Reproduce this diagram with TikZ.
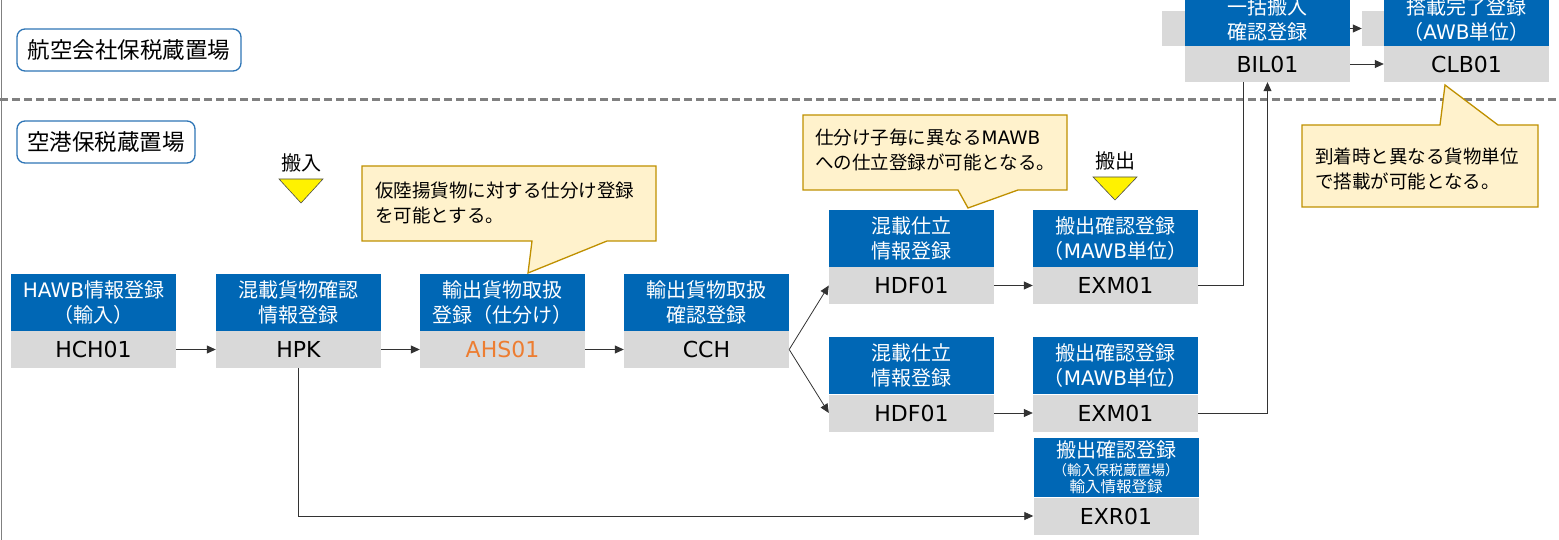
\documentclass[tikz,border=0pt]{standalone}
\usepackage{fontspec}
\setmainfont{Noto Sans CJK JP}
\newfontfamily\latfont{DejaVu Sans}
\usetikzlibrary{arrows.meta}
\definecolor{boxblue}{HTML}{0067B5}
\definecolor{boxgray}{HTML}{D9D9D9}
\definecolor{notefill}{HTML}{FFF2CC}
\definecolor{noteline}{HTML}{BF9000}
\definecolor{arealine}{HTML}{2E75B6}
\definecolor{codeorange}{HTML}{ED7D31}
\definecolor{sepgray}{HTML}{808080}
\tikzset{
  ttl/.style={fill=boxblue, text=white, minimum width=165pt, minimum height=57pt, inner sep=0pt, align=center, anchor=south, font=\fontsize{20}{25}\selectfont},
  cd/.style={fill=boxgray, minimum width=165pt, minimum height=37pt, inner sep=0pt, font=\latfont\fontsize{22}{26}\selectfont},
  flow/.style={-{Triangle[length=9pt,width=8pt]}, line width=0.8pt, draw=black!80},
  note/.style={fill=notefill, draw=noteline, line width=1.3pt},
  notetext/.style={anchor=west, align=left, inner sep=0pt, font=\fontsize{18.5}{25}\selectfont},
  area/.style={draw=arealine, line width=1.3pt, rounded corners=8pt, minimum height=42pt, inner sep=0pt, font=\fontsize{22.5}{26}\selectfont},
  inout/.style={fill=yellow, draw=black!70, line width=0.6pt},
  inoutlbl/.style={inner sep=0pt, font=\fontsize{20}{24}\selectfont}
}
\begin{document}
\begin{tikzpicture}[x=1pt, y=-1pt]
\useasboundingbox (0,0) rectangle (1559,540);
\clip (0,0) rectangle (1559,540);
% 区切り線
\draw[sepgray, line width=1.5pt] (1.5,0) -- (1.5,540);
\draw[sepgray, line width=3pt, dash pattern=on 8pt off 4pt] (0,100) -- (1559,100);
% 蔵置場
\node[area, minimum width=224pt] (airline) at (129,50) {航空会社保税蔵置場};
\node[area, minimum width=178pt] (airport) at (106,142) {空港保税蔵置場};
% 搬入・搬出
\node[inoutlbl] (inlbl) at (301,163) {搬入};
\draw[inout] (279,179) -- (323,179) -- (301,203) -- cycle;
\node[inoutlbl] (outlbl) at (1115,161) {搬出};
\draw[inout] (1093,177) -- (1137,177) -- (1115,200) -- cycle;
% 空港側
\node[cd] (hch) at (93.5,349.5) {HCH01};
\node[ttl] (hcht) at (hch.north) {{\latfont HAWB}情報登録\\（輸入）};
\node[cd] (hpk) at (298.5,349.5) {HPK};
\node[ttl] (hpkt) at (hpk.north) {混載貨物確認\\情報登録};
\node[cd, text=codeorange] (ahs) at (502.5,349.5) {AHS01};
\node[ttl] (ahst) at (ahs.north) {輸出貨物取扱\\登録（仕分け）};
\node[cd] (cch) at (706.5,349.5) {CCH};
\node[ttl] (ccht) at (cch.north) {輸出貨物取扱\\確認登録};
\node[cd] (hdfa) at (911.5,285.5) {HDF01};
\node[ttl] (hdfat) at (hdfa.north) {混載仕立\\情報登録};
\node[cd] (exma) at (1115.5,285.5) {EXM01};
\node[ttl] (exmat) at (exma.north) {搬出確認登録\\（{\latfont MAWB}単位）};
\node[cd] (hdfb) at (911.5,413) {HDF01};
\node[ttl] (hdfbt) at (hdfb.north) {混載仕立\\情報登録};
\node[cd] (exmb) at (1115.5,413) {EXM01};
\node[ttl] (exmbt) at (exmb.north) {搬出確認登録\\（{\latfont MAWB}単位）};
\node[cd] (exr) at (1116,516) {EXR01};
\node[ttl, minimum height=59pt] (exrt) at (exr.north) {搬出確認登録\\[-7pt]{\fontsize{14}{16}\selectfont （輸入保税蔵置場）}\\[-8pt]{\fontsize{15.5}{17}\selectfont 輸入情報登録}};
% 航空会社側
\node[cd, minimum height=35pt] (bilback) at (1244.5,28.5) {};
\node[cd, minimum height=35pt] (clbback) at (1444.5,28.5) {};
\draw[flow] (bilback.east) -- (clbback.west);
\node[cd, minimum height=36pt] (bil) at (1267.5,64) {BIL01};
\node[ttl, minimum height=52pt] (bilt) at (bil.north) {一括搬入\\確認登録};
\node[cd, minimum height=36pt] (clb) at (1466.5,64) {CLB01};
\node[ttl, minimum height=52pt] (clbt) at (clb.north) {搭載完了登録\\（{\latfont AWB}単位）};
% 矢印
\draw[flow] (hch.east) -- (hpk.west);
\draw[flow] (hpk.east) -- (ahs.west);
\draw[flow] (ahs.east) -- (cch.west);
\draw[flow] (cch.east) -- (hdfa.west);
\draw[flow] (cch.east) -- (hdfb.west);
\draw[flow] (hdfa.east) -- (exma.west);
\draw[flow] (hdfb.east) -- (exmb.west);
\draw[line width=0.8pt, draw=black!80] (exma.east) -| ([xshift=-24pt]bil.south);
\draw[flow] (exmb.east) -| (bil.south);
\draw[flow] (bil.east) -- (clb.west);
\draw[flow] (hpk.south) |- (exr.west);
% 吹き出し
\draw[note] (362,166) -- (656,166) -- (656,241) -- (607,241) -- (528,273) -- (532,241) -- (362,241) -- cycle;
\node[notetext] (notea) at (375,202.5) {仮陸揚貨物に対する仕分け登録\\を可能とする。};
\draw[note] (803,115) -- (1067,115) -- (1067,190) -- (1018,190) -- (968,208) -- (958,190) -- (803,190) -- cycle;
\node[notetext] (noteb) at (815,149.5) {仕分け子毎に異なる{\latfont MAWB}\\への仕立登録が可能となる。};
\draw[note] (1302,125) -- (1440,125) -- (1445,85) -- (1498,125) -- (1538,125) -- (1538,207) -- (1302,207) -- cycle;
\node[notetext] (notec) at (1315,168.5) {到着時と異なる貨物単位\\で搭載が可能となる。};
\end{tikzpicture}
\end{document}
